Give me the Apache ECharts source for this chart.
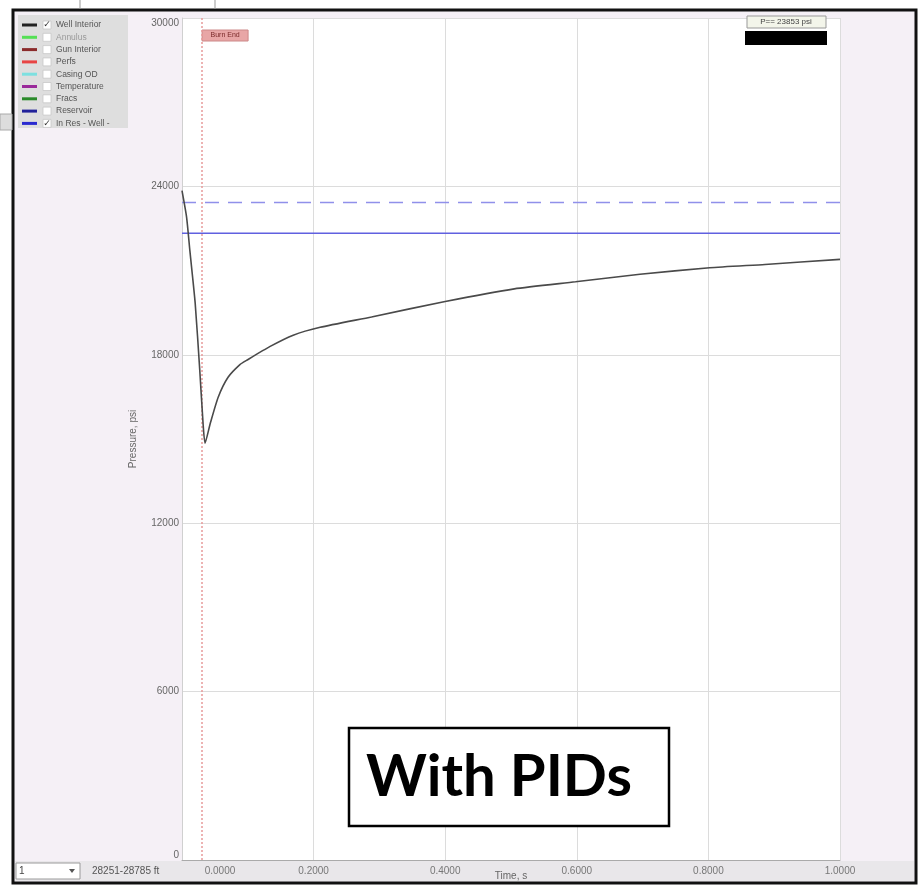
<!DOCTYPE html>
<html><head><meta charset="utf-8">
<script src="https://cdn.jsdelivr.net/npm/echarts@6/dist/echarts.min.js"></script>
<style>html,body{margin:0;padding:0;background:#fff}#c{width:923px;height:886px}</style>
</head><body><div id="c"></div>
<script>
// ---------- data ----------
const timeS = [0, 0.007, 0.012, 0.02, 0.027, 0.032, 0.035, 0.043, 0.055, 0.07, 0.088, 0.098, 0.134, 0.169, 0.21, 0.288, 0.4, 0.505, 0.598, 0.696, 0.802, 0.886, 1.0];
const wellInteriorPsi = [23850, 22900, 21700, 19850, 17450, 15560, 14850, 15560, 16490, 17200, 17650, 17800, 18300, 18700, 18980, 19350, 19900, 20350, 20600, 20870, 21100, 21220, 21400];
const inResWellPsi = 22330;
const inResWellUpperPsi = 23430;
const burnEndTime = 0.029;
const xTicks = [0, 0.2, 0.4, 0.6, 0.8, 1.0];
const yTicks = [0, 6000, 12000, 18000, 24000, 30000];
const legendNames = ['Well Interior', 'Annulus', 'Gun Interior', 'Perfs', 'Casing OD', 'Temperature', 'Fracs', 'Reservoir', 'In Res - Well -'];
const legendChecked = [true, false, false, false, false, false, false, false, true];
const xAxisName = 'Time, s';
const yAxisName = 'Pressure, psi';
const burnEndLabel = 'Burn End';
const readoutText = 'P== 23853 psi';
const depthRange = '28251-28785 ft';
const zoneSelect = '1';
const annotationText = 'With PIDs';

// ---------- styles ----------
const legendColors = ['#222', '#55e055', '#8b2b2b', '#e84545', '#7de0e0', '#9a2a9a', '#2a8a2a', '#22229a', '#2a2ad0'];
const FONT = 'Liberation Sans, Arial, sans-serif';

const chart = echarts.init(document.getElementById('c'), null, {renderer: 'canvas'});

const option = {
  animation: false,
  backgroundColor: '#fff',
  grid: {left: 182, right: 83, top: 18, bottom: 26, show: true, backgroundColor: '#fff', borderWidth: 0,
    containLabel: false, outerBoundsMode: 'none'},
  xAxis: {
    type: 'value', min: xTicks[0], max: xTicks[xTicks.length - 1], interval: 0.2,
    name: xAxisName, nameLocation: 'middle', nameGap: 16, nameMoveOverlap: false,
    nameTextStyle: {fontFamily: FONT, fontSize: 10, color: '#666', verticalAlign: 'middle'},
    axisLine: {show: true, lineStyle: {color: '#aaa', width: 1}},
    axisTick: {show: false},
    axisLabel: {
      fontFamily: FONT, fontSize: 10, color: '#777', margin: 6,
      formatter: v => v === 0 ? '{o|' + v.toFixed(4) + '}' : v.toFixed(4),
      rich: {o: {fontFamily: FONT, fontSize: 10, color: '#777', padding: [0, 0, 0, 76]}}
    },
    splitLine: {show: true, lineStyle: {color: '#dcdcdc', width: 1}}
  },
  yAxis: {
    type: 'value', min: yTicks[0], max: yTicks[yTicks.length - 1], interval: 6000,
    name: yAxisName, nameLocation: 'middle', nameGap: 44, nameRotate: 90, nameMoveOverlap: false,
    nameTextStyle: {fontFamily: FONT, fontSize: 10, color: '#666'},
    axisLine: {show: true, lineStyle: {color: '#d0d0d0'}},
    axisTick: {show: false},
    axisLabel: {fontFamily: FONT, fontSize: 10, color: '#666', margin: 3,
      formatter: v => String(v),
      verticalAlignMaxLabel: 'top', verticalAlignMinLabel: 'bottom'},
    splitLine: {show: true, lineStyle: {color: '#dcdcdc', width: 1}}
  },
  series: [
    {
      name: legendNames[0], type: 'line', showSymbol: false, smooth: 0.2,
      data: timeS.map((t, i) => [t, wellInteriorPsi[i]]),
      lineStyle: {color: '#4a4a4a', width: 1.6}, z: 5,
      markLine: {
        silent: true, symbol: 'none', label: {show: false},
        lineStyle: {color: '#e89a9a', type: [2, 2], width: 1.5},
        data: [{xAxis: burnEndTime}]
      }
    },
    {
      name: legendNames[8], type: 'line', showSymbol: false,
      data: [[xTicks[0], inResWellPsi], [xTicks[xTicks.length - 1], inResWellPsi]],
      lineStyle: {color: '#6060e0', width: 1.3}
    },
    {
      name: legendNames[8] + ' (upper)', type: 'line', showSymbol: false,
      data: [[xTicks[0], inResWellUpperPsi], [xTicks[xTicks.length - 1], inResWellUpperPsi]],
      lineStyle: {color: '#9090ea', width: 1.5, type: [14, 9]}
    }
  ]
};
chart.setOption(option);

const bx = chart.convertToPixel({xAxisIndex: 0}, burnEndTime);
const g = [];
// frame background + border
g.push({type: 'rect', z: -20, shape: {x: 13, y: 10, width: 903, height: 873},
  style: {fill: '#f5f0f6', stroke: '#111', lineWidth: 3}});
// stray window bits outside the frame
g.push({type: 'line', shape: {x1: 80, y1: 0, x2: 80, y2: 9}, style: {stroke: '#999', lineWidth: 1}});
g.push({type: 'line', shape: {x1: 215, y1: 0, x2: 215, y2: 9}, style: {stroke: '#999', lineWidth: 1}});
g.push({type: 'rect', shape: {x: 0, y: 114, width: 12, height: 16}, style: {fill: '#ddd', stroke: '#aaa'}});
// bottom strip
g.push({type: 'rect', z: -5, shape: {x: 15, y: 861, width: 899, height: 20}, style: {fill: '#e9e7ea'}});
g.push({type: 'rect', shape: {x: 16, y: 863, width: 64, height: 16}, style: {fill: '#fff', stroke: '#9a9a9a', lineWidth: 1}});
g.push({type: 'text', style: {x: 19, y: 871, text: zoneSelect, fontFamily: FONT, fontSize: 10, fill: '#444', verticalAlign: 'middle'}});
g.push({type: 'polygon', shape: {points: [[69, 869], [75, 869], [72, 873]]}, style: {fill: '#555'}});
g.push({type: 'text', style: {x: 92, y: 871, text: depthRange, fontFamily: FONT, fontSize: 10, fill: '#555', verticalAlign: 'middle'}});
// legend panel
g.push({type: 'rect', shape: {x: 18, y: 15, width: 110, height: 113}, style: {fill: '#dedede'}});
legendNames.forEach((n, i) => {
  const y = 25 + i * 12.3;
  g.push({type: 'line', shape: {x1: 22, y1: y, x2: 37, y2: y}, style: {stroke: legendColors[i], lineWidth: 3}});
  g.push({type: 'rect', shape: {x: 43, y: y - 4, width: 8, height: 8}, style: {fill: '#fff', stroke: '#c8c8c8', lineWidth: 0.8}});
  if (legendChecked[i]) {
    g.push({type: 'text', style: {x: 47, y: y, text: '✓', fontFamily: 'DejaVu Sans', fontSize: 9, fill: '#333', align: 'center', verticalAlign: 'middle'}});
  }
  g.push({type: 'text', style: {x: 56, y: y, text: n, fontFamily: FONT, fontSize: 8.5,
    fill: i === 1 ? '#9a9a9a' : '#555', verticalAlign: 'middle'}});
});
// burn end tag
g.push({type: 'rect', shape: {x: bx + 1, y: 30, width: 46, height: 11}, style: {fill: '#e8a6a6', stroke: '#c88', lineWidth: 1}});
g.push({type: 'text', style: {x: bx + 24, y: 35.5, text: burnEndLabel, fontFamily: FONT, fontSize: 7, fill: '#7a2a2a', align: 'center', verticalAlign: 'middle'}});
// readout box
g.push({type: 'rect', shape: {x: 747, y: 16, width: 79, height: 12}, style: {fill: '#f3f5ea', stroke: '#999', lineWidth: 1}});
g.push({type: 'text', style: {x: 786, y: 22, text: readoutText, fontFamily: FONT, fontSize: 8, fill: '#444', align: 'center', verticalAlign: 'middle'}});
g.push({type: 'rect', shape: {x: 745, y: 31, width: 82, height: 14}, style: {fill: '#000'}});
// annotation box
g.push({type: 'rect', z: 50, shape: {x: 349, y: 728, width: 320, height: 98}, style: {fill: '#fff', stroke: '#000', lineWidth: 2.5}});
g.push({type: 'text', z: 51, style: {x: 499, y: 777, text: annotationText, fontFamily: 'Lato', fontWeight: 'bold', fontSize: 58, fill: '#000', align: 'center', verticalAlign: 'middle'}});

chart.setOption({graphic: g});
</script>
</body></html>
